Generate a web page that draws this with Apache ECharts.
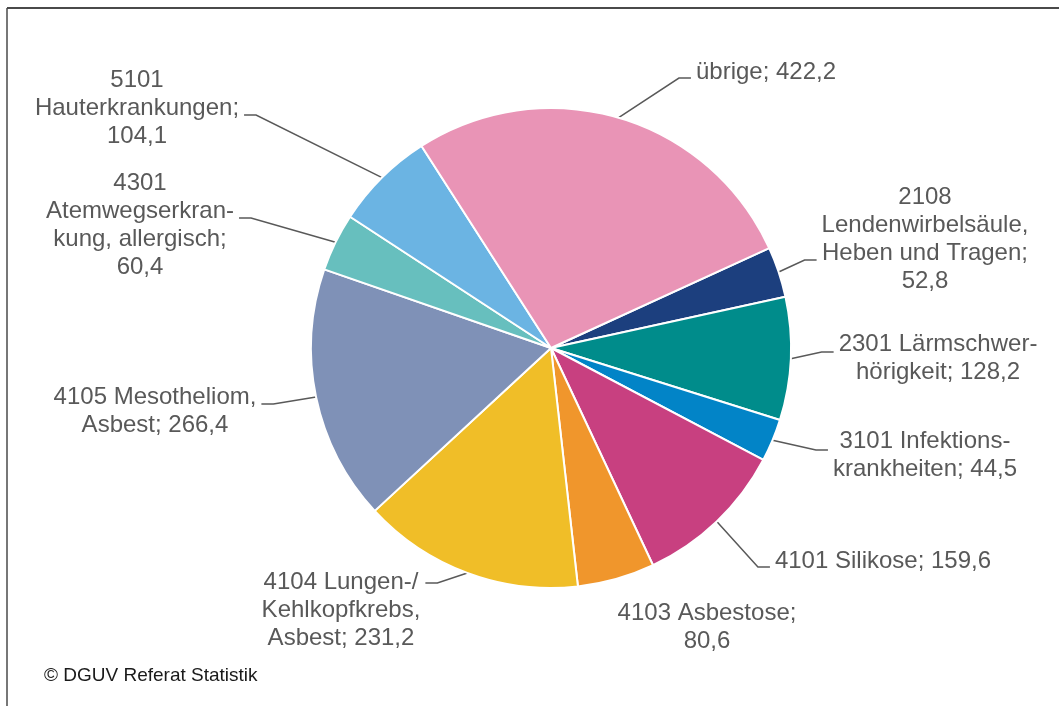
<!DOCTYPE html>
<html>
<head>
<meta charset="utf-8">
<script src="https://cdn.jsdelivr.net/npm/echarts@6/dist/echarts.min.js"></script>
<style>
  html, body { margin: 0; padding: 0; background: #fff; }
  #chart { width: 1059px; height: 706px; }
</style>
</head>
<body>
<div id="chart"></div>
<script>
// Berufskrankheiten, Anteile
const names = [
  "2108\nLendenwirbelsäule,\nHeben und Tragen",
  "2301 Lärmschwer-\nhörigkeit",
  "3101 Infektions-\nkrankheiten",
  "4101 Silikose",
  "4103 Asbestose",
  "4104 Lungen-/\nKehlkopfkrebs,\nAsbest",
  "4105 Mesotheliom,\nAsbest",
  "4301\nAtemwegserkran-\nkung, allergisch",
  "5101\nHauterkrankungen",
  "übrige",
];
const values = [52.8, 128.2, 44.5, 159.6, 80.6, 231.2, 266.4, 60.4, 104.1, 422.2];
// Zeilenumbruch vor dem Wert?
const valueBreak = [true, false, false, false, true, false, false, true, true, false];
const colors = [
  "#1c3f7e", "#008c8b", "#0284c7", "#c84080", "#f0962c",
  "#f0be28", "#7f91b7", "#67bfbe", "#6bb4e3", "#e994b6",
];

// Label-Mittelpunkte und Anschluss der Führungslinie (Layout)
const labelPos = [
  [925, 239], [938, 358], [925, 455], [883, 561], [707, 627],
  [341, 610], [155, 411], [140, 225], [137, 108], [766, 72],
];
const lineSide = ["left", "left", "left", "left", null, "right", "right", "right", "right", "left"];
const lineDy = [21, -6, -5, 6, 0, -27, -7, -7, 7, 6];

const fmt = (v) => v.toFixed(1).replace(".", ",");

const chart = echarts.init(document.getElementById("chart"));
chart.setOption({
  animation: false,
  backgroundColor: "#fff",
  title: {
    text: "© DGUV Referat Statistik",
    left: 44,
    top: 666,
    padding: 0,
    textStyle: {
      fontFamily: "Liberation Sans, Arial, sans-serif",
      fontSize: 19,
      fontWeight: "normal",
      color: "#1a1a1a",
    },
  },
  graphic: [
    { type: "line", shape: { x1: 7, y1: 8, x2: 1059, y2: 8 }, style: { stroke: "#4a4a4a", lineWidth: 2 } },
    { type: "line", shape: { x1: 7, y1: 8, x2: 7, y2: 706 }, style: { stroke: "#4a4a4a", lineWidth: 1.5 } },
  ],
  series: [
    {
      type: "pie",
      center: [551, 348],
      radius: 240,
      startAngle: 24.6,
      clockwise: true,
      avoidLabelOverlap: false,
      itemStyle: { borderColor: "#fff", borderWidth: 2 },
      label: {
        show: true,
        position: "outside",
        fontFamily: "Liberation Sans, Arial, sans-serif",
        fontSize: 24,
        lineHeight: 28,
        color: "#595959",
        formatter: (p) => p.name + ";" + (valueBreak[p.dataIndex] ? "\n" : " ") + fmt(p.value),
      },
      labelLine: {
        show: true,
        length: 15,
        length2: 12,
        lineStyle: { color: "#595959", width: 1.5 },
      },
      labelLayout: (params) => {
        const i = params.dataIndex;
        const x = labelPos[i][0];
        const y = labelPos[i][1];
        const out = { x: x, y: y, align: "center", verticalAlign: "middle" };
        const pts = params.labelLinePoints;
        if (pts && lineSide[i]) {
          const s = lineSide[i] === "left" ? -1 : 1;
          const ax = x + s * (params.labelRect.width / 2 + 5);
          const ay = y + lineDy[i];
          out.labelLinePoints = [pts[0], [ax + s * 12, ay], [ax, ay]];
        }
        return out;
      },
      emphasis: { disabled: true },
      data: names.map((n, i) => ({
        name: n,
        value: values[i],
        itemStyle: { color: colors[i] },
        labelLine: lineSide[i] ? undefined : { show: false },
      })),
    },
  ],
});
</script>
</body>
</html>
